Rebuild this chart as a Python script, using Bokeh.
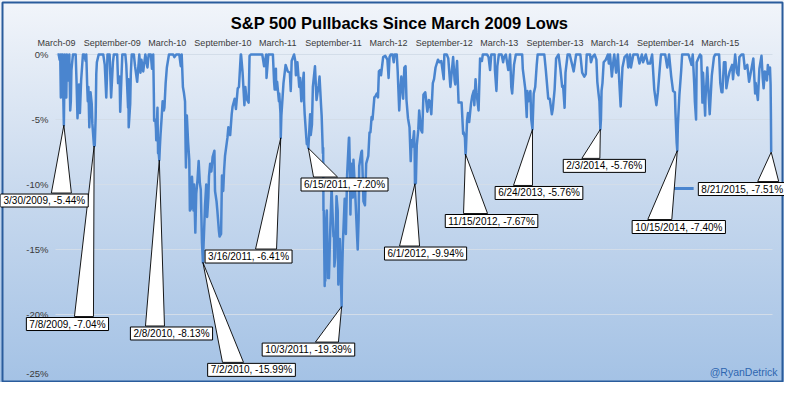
import pandas as pd
from bokeh.plotting import figure
from bokeh.models import Range1d, Label
from bokeh.core.properties import value
from bokeh.embed import file_html
from bokeh.resources import INLINE

# ---------------- data (drawdown from running high, %) ----------------
pb_2009 = [
    ("2009-03-09", 0), ("2009-03-13", 0), ("2009-03-16", -0.4), ("2009-03-18", 0), ("2009-03-20", -3.3),
    ("2009-03-23", 0), ("2009-03-26", 0), ("2009-03-27", -2.0), ("2009-03-30", -5.44), ("2009-04-02", 0),
    ("2009-04-06", -1.5), ("2009-04-07", -3.3), ("2009-04-09", 0), ("2009-04-14", -2.0), ("2009-04-17", 0),
    ("2009-04-20", -4.3), ("2009-04-22", -3.6), ("2009-04-24", -1.2), ("2009-04-29", 0), ("2009-05-04", 0),
    ("2009-05-08", 0), ("2009-05-11", -2.2), ("2009-05-14", -4.9), ("2009-05-19", -2.3), ("2009-05-22", -4.5),
    ("2009-05-26", -2.0), ("2009-06-01", 0), ("2009-06-05", 0), ("2009-06-10", -0.5), ("2009-06-12", 0),
    ("2009-06-15", -2.4), ("2009-06-17", -3.6), ("2009-06-19", -2.5), ("2009-06-22", -5.6), ("2009-06-26", -2.9),
    ("2009-06-30", -3.8), ("2009-07-02", -5.3), ("2009-07-07", -6.9), ("2009-07-08", -7.04), ("2009-07-10", -7.0),
    ("2009-07-13", -4.8), ("2009-07-15", -1.5), ("2009-07-17", -0.6), ("2009-07-23", 0), ("2009-07-31", 0),
    ("2009-08-07", 0), ("2009-08-12", -0.8), ("2009-08-17", -3.3), ("2009-08-19", -1.9), ("2009-08-21", 0),
    ("2009-08-28", 0), ("2009-09-02", -3.3), ("2009-09-08", -0.6), ("2009-09-11", 0), ("2009-09-16", 0),
    ("2009-09-22", 0), ("2009-09-25", -2.2), ("2009-09-30", -1.7), ("2009-10-02", -4.4), ("2009-10-06", -1.8),
    ("2009-10-09", 0), ("2009-10-14", 0), ("2009-10-19", 0), ("2009-10-22", -0.8), ("2009-10-26", -3.0),
    ("2009-10-28", -4.1), ("2009-10-29", -1.9), ("2009-10-30", -5.6), ("2009-11-04", -3.8), ("2009-11-06", -1.5),
    ("2009-11-09", 0), ("2009-11-16", 0), ("2009-11-20", -0.9), ("2009-11-27", -2.1), ("2009-12-04", 0),
    ("2009-12-08", -1.4), ("2009-12-11", -0.4), ("2009-12-17", -1.3), ("2009-12-24", 0), ("2009-12-31", -1.0),
]
pb_2010 = [
    ("2010-01-04", 0), ("2010-01-11", 0), ("2010-01-15", -1.1), ("2010-01-19", 0), ("2010-01-21", -3.0),
    ("2010-01-22", -5.1), ("2010-01-26", -5.0), ("2010-01-28", -5.7), ("2010-01-29", -6.6), ("2010-02-02", -4.1),
    ("2010-02-04", -7.6), ("2010-02-05", -7.3), ("2010-02-08", -8.13), ("2010-02-10", -7.1), ("2010-02-12", -6.2),
    ("2010-02-16", -4.8), ("2010-02-19", -3.6), ("2010-02-23", -4.3), ("2010-02-25", -4.1), ("2010-03-01", -2.2),
    ("2010-03-05", -1.0), ("2010-03-12", 0), ("2010-03-18", 0), ("2010-03-26", 0), ("2010-03-30", -0.2),
    ("2010-04-05", 0), ("2010-04-15", 0), ("2010-04-20", -0.9), ("2010-04-23", 0), ("2010-04-27", -2.5),
    ("2010-04-30", -2.9), ("2010-05-04", -3.6), ("2010-05-06", -7.3), ("2010-05-07", -8.7), ("2010-05-10", -4.7),
    ("2010-05-14", -6.7), ("2010-05-18", -8.1), ("2010-05-20", -12.0), ("2010-05-25", -11.8), ("2010-05-27", -9.4),
    ("2010-06-01", -12.0), ("2010-06-03", -10.0), ("2010-06-07", -13.7), ("2010-06-10", -10.7), ("2010-06-14", -9.7),
    ("2010-06-18", -8.2), ("2010-06-22", -9.9), ("2010-06-25", -10.4), ("2010-06-29", -14.5), ("2010-07-02", -15.99),
    ("2010-07-07", -12.9), ("2010-07-09", -11.6), ("2010-07-13", -10.0), ("2010-07-16", -12.5), ("2010-07-20", -11.0),
    ("2010-07-22", -9.4), ("2010-07-26", -8.4), ("2010-07-30", -9.0), ("2010-08-03", -7.9), ("2010-08-09", -7.4),
    ("2010-08-11", -10.5), ("2010-08-16", -11.3), ("2010-08-19", -12.1), ("2010-08-24", -13.6), ("2010-08-26", -14.0),
    ("2010-08-31", -13.8), ("2010-09-03", -9.3), ("2010-09-07", -10.5), ("2010-09-10", -8.9), ("2010-09-13", -7.8),
    ("2010-09-21", -6.4), ("2010-09-24", -5.6), ("2010-09-30", -6.2), ("2010-10-05", -4.6), ("2010-10-08", -4.0),
    ("2010-10-15", -3.4), ("2010-10-19", -4.2), ("2010-10-25", -2.6), ("2010-10-29", -2.5), ("2010-11-04", 0),
    ("2010-11-05", 0), ("2010-11-10", -1.4), ("2010-11-16", -3.9), ("2010-11-19", -2.5), ("2010-11-23", -3.4),
    ("2010-11-30", -3.7), ("2010-12-03", -0.1), ("2010-12-07", 0), ("2010-12-13", 0), ("2010-12-17", 0),
    ("2010-12-23", 0), ("2010-12-31", 0),
]
pb_2011 = [
    ("2011-01-05", 0), ("2011-01-12", 0), ("2011-01-14", 0), ("2011-01-20", -0.9), ("2011-01-27", 0),
    ("2011-01-28", -1.8), ("2011-02-03", 0), ("2011-02-10", 0), ("2011-02-18", 0), ("2011-02-22", -2.1),
    ("2011-02-24", -2.7), ("2011-02-28", -1.1), ("2011-03-01", -2.7), ("2011-03-04", -2.1), ("2011-03-10", -3.6),
    ("2011-03-11", -3.0), ("2011-03-15", -4.5), ("2011-03-16", -6.41), ("2011-03-18", -4.7), ("2011-03-22", -3.3),
    ("2011-03-25", -2.2), ("2011-04-01", -0.8), ("2011-04-08", -1.3), ("2011-04-15", -1.4), ("2011-04-18", -2.8),
    ("2011-04-21", -0.5), ("2011-04-29", 0), ("2011-05-03", -0.5), ("2011-05-05", -1.6), ("2011-05-10", -0.6),
    ("2011-05-16", -2.5), ("2011-05-19", -1.8), ("2011-05-23", -3.6), ("2011-05-26", -2.6), ("2011-05-31", -1.4),
    ("2011-06-01", -3.6), ("2011-06-03", -4.6), ("2011-06-08", -6.3), ("2011-06-10", -6.9), ("2011-06-13", -6.9),
    ("2011-06-15", -7.20), ("2011-06-17", -6.4), ("2011-06-21", -4.6), ("2011-06-23", -6.2), ("2011-06-27", -5.4),
    ("2011-06-30", -2.5), ("2011-07-07", -0.9), ("2011-07-12", -3.5), ("2011-07-15", -3.0), ("2011-07-19", -2.4),
    ("2011-07-22", -1.7), ("2011-07-27", -3.9), ("2011-07-29", -4.7), ("2011-08-02", -7.6), ("2011-08-03", -7.2),
    ("2011-08-04", -12.0), ("2011-08-05", -12.0), ("2011-08-08", -17.8), ("2011-08-09", -13.5), ("2011-08-10", -17.4),
    ("2011-08-11", -13.6), ("2011-08-15", -12.0), ("2011-08-18", -16.0), ("2011-08-19", -17.2), ("2011-08-22", -17.2),
    ("2011-08-26", -13.8), ("2011-08-31", -10.1), ("2011-09-01", -11.1), ("2011-09-06", -14.0), ("2011-09-08", -14.0),
    ("2011-09-09", -16.3), ("2011-09-12", -15.6), ("2011-09-16", -10.9), ("2011-09-20", -12.0), ("2011-09-22", -17.7),
    ("2011-09-23", -17.2), ("2011-09-27", -14.2), ("2011-09-30", -16.9), ("2011-10-03", -19.39), ("2011-10-04", -17.4),
    ("2011-10-07", -14.6), ("2011-10-13", -11.1), ("2011-10-17", -13.8), ("2011-10-21", -9.3), ("2011-10-27", -6.4),
    ("2011-10-28", -6.4), ("2011-10-31", -9.7), ("2011-11-01", -12.3), ("2011-11-04", -8.4), ("2011-11-09", -11.0),
    ("2011-11-11", -8.1), ("2011-11-17", -10.8), ("2011-11-23", -14.0), ("2011-11-25", -15.0), ("2011-11-28", -12.7),
    ("2011-11-30", -8.6), ("2011-12-07", -7.5), ("2011-12-09", -7.4), ("2011-12-14", -11.3), ("2011-12-19", -11.6),
    ("2011-12-23", -8.4), ("2011-12-30", -7.8),
]
pb_2012 = [
    ("2012-01-03", -6.0), ("2012-01-06", -6.0), ("2012-01-10", -4.8), ("2012-01-13", -5.0), ("2012-01-19", -3.3),
    ("2012-01-23", -3.2), ("2012-01-27", -3.0), ("2012-01-31", -3.3), ("2012-02-03", -1.3), ("2012-02-07", -1.2),
    ("2012-02-10", -1.6), ("2012-02-17", -0.2), ("2012-02-24", -0.1), ("2012-03-02", -0.4), ("2012-03-06", -1.8),
    ("2012-03-09", -0.2), ("2012-03-13", 0), ("2012-03-19", 0), ("2012-03-23", -0.6), ("2012-03-26", 0),
    ("2012-04-02", 0), ("2012-04-05", -1.3), ("2012-04-10", -4.3), ("2012-04-13", -3.0), ("2012-04-17", -1.7),
    ("2012-04-23", -3.4), ("2012-04-27", -1.0), ("2012-05-01", -0.9), ("2012-05-04", -3.5), ("2012-05-09", -4.9),
    ("2012-05-14", -5.6), ("2012-05-18", -8.2), ("2012-05-21", -6.6), ("2012-05-23", -7.1), ("2012-05-25", -6.8),
    ("2012-05-29", -5.9), ("2012-05-31", -7.4), ("2012-06-01", -9.94), ("2012-06-04", -9.9), ("2012-06-07", -7.0),
    ("2012-06-12", -5.8), ("2012-06-15", -4.3), ("2012-06-21", -5.8), ("2012-06-25", -6.0), ("2012-06-29", -3.1),
    ("2012-07-05", -2.9), ("2012-07-12", -4.4), ("2012-07-17", -3.5), ("2012-07-20", -3.6), ("2012-07-25", -4.6),
    ("2012-07-30", -2.2), ("2012-08-03", -1.9), ("2012-08-08", -1.0), ("2012-08-16", -0.4), ("2012-08-21", -0.6),
    ("2012-08-27", -0.5), ("2012-09-04", -1.9), ("2012-09-06", 0), ("2012-09-14", 0), ("2012-09-19", -0.3),
    ("2012-09-26", -2.5), ("2012-10-01", -1.2), ("2012-10-05", -0.2), ("2012-10-10", -2.0), ("2012-10-12", -2.3),
    ("2012-10-18", -0.5), ("2012-10-23", -3.7), ("2012-10-26", -3.7), ("2012-11-02", -3.7), ("2012-11-07", -6.1),
    ("2012-11-09", -6.0), ("2012-11-13", -6.4), ("2012-11-15", -7.67), ("2012-11-16", -7.5), ("2012-11-20", -5.1),
    ("2012-11-23", -4.5), ("2012-11-27", -5.2), ("2012-12-03", -3.8), ("2012-12-07", -3.2), ("2012-12-12", -2.8),
    ("2012-12-14", -3.9), ("2012-12-18", -1.9), ("2012-12-21", -2.9), ("2012-12-28", -4.3),
]
pb_2013 = [
    ("2013-01-02", -0.3), ("2013-01-08", -0.5), ("2013-01-11", 0), ("2013-01-18", 0), ("2013-01-25", 0),
    ("2013-01-30", -0.2), ("2013-02-04", -1.2), ("2013-02-08", 0), ("2013-02-19", 0), ("2013-02-20", -1.2),
    ("2013-02-25", -2.8), ("2013-02-28", -0.9), ("2013-03-05", 0), ("2013-03-14", 0), ("2013-03-19", -0.6),
    ("2013-03-22", -0.2), ("2013-03-28", 0), ("2013-04-05", -1.2), ("2013-04-11", 0), ("2013-04-15", -2.5),
    ("2013-04-18", -3.0), ("2013-04-24", -0.8), ("2013-04-30", 0), ("2013-05-08", 0), ("2013-05-21", 0),
    ("2013-05-23", -1.1), ("2013-05-24", -1.3), ("2013-05-31", -2.6), ("2013-06-05", -4.8), ("2013-06-07", -2.8),
    ("2013-06-11", -3.6), ("2013-06-17", -2.8), ("2013-06-20", -5.0), ("2013-06-24", -5.76), ("2013-06-28", -3.0),
    ("2013-07-03", -2.5), ("2013-07-08", -0.8), ("2013-07-11", 0), ("2013-07-22", 0), ("2013-08-02", 0),
    ("2013-08-07", -1.2), ("2013-08-15", -3.4), ("2013-08-20", -3.4), ("2013-08-27", -4.6), ("2013-08-30", -4.2),
    ("2013-09-05", -2.7), ("2013-09-10", -0.3), ("2013-09-18", 0), ("2013-09-24", -1.1), ("2013-09-30", -2.5),
    ("2013-10-03", -2.4), ("2013-10-08", -4.1), ("2013-10-11", -1.4), ("2013-10-18", 0), ("2013-10-25", 0),
    ("2013-11-07", -1.3), ("2013-11-15", 0), ("2013-11-22", 0), ("2013-11-29", 0), ("2013-12-05", -1.4),
    ("2013-12-12", -1.7), ("2013-12-17", -1.5), ("2013-12-20", 0), ("2013-12-31", 0),
]
pb_2014 = [
    ("2014-01-03", -0.6), ("2014-01-08", -0.2), ("2014-01-15", 0), ("2014-01-21", -0.4), ("2014-01-24", -2.1),
    ("2014-01-28", -3.0), ("2014-01-31", -3.6), ("2014-02-03", -5.76), ("2014-02-05", -5.0), ("2014-02-07", -2.8),
    ("2014-02-10", -2.2), ("2014-02-14", -0.6), ("2014-02-21", -0.4), ("2014-02-28", 0), ("2014-03-03", -0.7),
    ("2014-03-07", 0), ("2014-03-13", -1.7), ("2014-03-19", -0.3), ("2014-03-21", 0), ("2014-03-27", -1.4),
    ("2014-04-02", 0), ("2014-04-07", -2.3), ("2014-04-11", -4.0), ("2014-04-17", -1.0), ("2014-04-24", -0.2),
    ("2014-05-02", 0), ("2014-05-06", -1.0), ("2014-05-12", 0), ("2014-05-15", -1.0), ("2014-05-23", 0),
    ("2014-06-06", 0), ("2014-06-12", -0.7), ("2014-06-20", 0), ("2014-06-24", -0.6), ("2014-07-03", 0),
    ("2014-07-10", -0.7), ("2014-07-17", -0.7), ("2014-07-24", 0), ("2014-07-31", -2.7), ("2014-08-07", -3.9),
    ("2014-08-12", -2.9), ("2014-08-18", -1.1), ("2014-08-22", 0), ("2014-09-05", 0), ("2014-09-12", -1.0),
    ("2014-09-18", 0), ("2014-09-25", -1.7), ("2014-10-01", -2.8), ("2014-10-07", -2.9), ("2014-10-09", -4.5),
    ("2014-10-13", -6.8), ("2014-10-15", -7.40), ("2014-10-17", -5.4), ("2014-10-22", -3.1), ("2014-10-28", -1.2),
    ("2014-10-31", 0), ("2014-11-07", 0), ("2014-11-21", 0), ("2014-12-01", -0.8), ("2014-12-05", 0),
    ("2014-12-10", -2.3), ("2014-12-12", -3.6), ("2014-12-16", -5.0), ("2014-12-18", -0.6), ("2014-12-29", 0),
]
pb_2015 = [
    ("2015-01-02", -0.1), ("2015-01-06", -3.7), ("2015-01-08", -1.4), ("2015-01-15", -4.7), ("2015-01-16", -3.5),
    ("2015-01-22", -1.0), ("2015-01-27", -3.3), ("2015-01-30", -4.6), ("2015-02-02", -3.3), ("2015-02-06", -1.6),
    ("2015-02-13", -0.2), ("2015-02-17", 0), ("2015-02-25", 0), ("2015-03-02", 0), ("2015-03-06", -2.2),
    ("2015-03-10", -2.9), ("2015-03-13", -2.9), ("2015-03-18", -0.6), ("2015-03-23", -0.6), ("2015-03-26", -2.6),
    ("2015-03-31", -1.9), ("2015-04-06", -1.3), ("2015-04-14", -0.8), ("2015-04-17", -1.9), ("2015-04-24", 0),
    ("2015-04-30", -1.4), ("2015-05-05", -1.6), ("2015-05-08", -0.2), ("2015-05-15", 0), ("2015-05-21", 0),
    ("2015-05-26", -1.1), ("2015-06-03", -0.8), ("2015-06-09", -2.1), ("2015-06-16", -1.2), ("2015-06-23", -0.3),
    ("2015-06-29", -3.0), ("2015-07-01", -2.2), ("2015-07-08", -3.5), ("2015-07-13", -1.1), ("2015-07-20", -0.1),
    ("2015-07-24", -1.8), ("2015-07-27", -2.6), ("2015-07-31", -1.3), ("2015-08-04", -1.5), ("2015-08-07", -2.0),
    ("2015-08-10", -0.8), ("2015-08-12", -1.5), ("2015-08-17", -1.0), ("2015-08-19", -2.3), ("2015-08-20", -4.5),
    ("2015-08-21", -7.51),
]

# annotated pullback lows
ann_dates = ["2009-03-30", "2009-07-08", "2010-02-08", "2010-07-02", "2011-03-16", "2011-06-15", "2011-10-03",
             "2012-06-01", "2012-11-15", "2013-06-24", "2014-02-03", "2014-10-15", "2015-08-21"]
ann_values = [-5.44, -7.04, -8.13, -15.99, -6.41, -7.20, -19.39, -9.94, -7.67, -5.76, -5.76, -7.40, -7.51]

# short stray series segment visible in the original
stray_dates = ["2014-09-27", "2014-12-08"]
stray_values = [-10.3, -10.3]

x_tick_dates = ["2009-03-01", "2009-09-01", "2010-03-01", "2010-09-01", "2011-03-01", "2011-09-01", "2012-03-01",
                "2012-09-01", "2013-03-01", "2013-09-01", "2014-03-01", "2014-09-01", "2015-03-01"]
y_ticks = [0, -5, -10, -15, -20, -25]

# ---------------- layout constants (pixels) ----------------
# callout box centre offset (dx, dy) from the low, and wedge base (left, right) relative to the low
callout_layout = [(-19.5, 75.3, -12.5, 7.5), (-26.7, 178, -19.7, -0.7), (12.2, 173.3, -13.8, 5.2),
                  (48.6, 107.5, 19.6, 40.6), (-32.2, 118.7, -25.2, -4.2), (36.2, 36.4, 5.2, 29.2),
                  (-33.2, 43, -26.2, -3.2), (10.6, 69.8, -15.4, 4.6), (26, 66.8, -2, 22),
                  (6.5, 63.6, -19, 0), (4, 36.5, -18.5, -0.5), (1.5, 76.3, -29.5, -5.5),
                  (-29, 36.9, -13.5, 7.5)]
BOX_H = 15
W, H = 784, 382
PX_PER_DAY = 714 / 2357.0     # horizontal scale of the original
PX_PER_PCT = 13.0             # vertical scale of the original
ORIGIN_X, ORIGIN_Y = 57, 54   # pixel of 2009-03-09 and of 0 %
DAY_MS = 86400000.0


def ms(s):
    return pd.Timestamp(s).value / 1e6


X0 = ms("2009-03-09") - ORIGIN_X / PX_PER_DAY * DAY_MS
X1 = X0 + W / PX_PER_DAY * DAY_MS
Y1 = ORIGIN_Y / PX_PER_PCT
Y0 = Y1 - H / PX_PER_PCT
PX_X = W / (X1 - X0)   # pixels per ms


def px_x(px):            # pixel column -> data x
    return X0 + px / PX_X


def px_y(py):            # pixel row -> data y
    return Y1 - py / PX_PER_PCT


LINE_BLUE = "#4A85CF"
FONT = "Liberation Sans"

series = pb_2009 + pb_2010 + pb_2011 + pb_2012 + pb_2013 + pb_2014 + pb_2015
xs = [ms(d) for d, _ in series]
ys = [v for _, v in series]

p = figure(width=W, height=H, x_range=Range1d(X0, X1), y_range=Range1d(Y0, Y1),
           x_axis_location=None, y_axis_location=None,
           output_backend="svg", toolbar_location=None, min_border=0)
p.background_fill_color = None
p.border_fill_color = None
p.outline_line_color = None
p.grid.visible = False
p.styles = {"background": "linear-gradient(180deg, #F2F5FA 0%, #C8D9EE 50%, #A4C2E5 100%)"}

# chart border
p.quad(left=[px_x(2)], right=[px_x(782)], top=[px_y(2)], bottom=[px_y(381)],
       fill_color=None, line_color="#2A5C9C", line_width=2)

# gridlines and tick labels
grid_ticks = [t for t in y_ticks if t > -25]
p.segment(x0=[px_x(55)] * len(grid_ticks), x1=[px_x(772)] * len(grid_ticks), y0=grid_ticks, y1=grid_ticks,
          line_color="#D3DDE9", line_width=1)
y_lab_pos = [t if t > -25 else t + 6 / PX_PER_PCT for t in y_ticks]
p.text(x=[px_x(48)] * len(y_ticks), y=y_lab_pos, text=[f"{t}%" for t in y_ticks],
       text_font=value(FONT), text_font_size="9.5px", text_color="#3A3A3A",
       text_align="right", text_baseline="middle")
x_lab = [pd.Timestamp(d).strftime("%B-%y") for d in x_tick_dates]
p.text(x=[ms(d) + 1.5 / PX_X for d in x_tick_dates], y=[px_y(42)] * len(x_tick_dates), text=x_lab,
       text_font=value(FONT), text_font_size="9px", text_color="#3A3A3A",
       text_align="center", text_baseline="middle")

# series
p.line(xs, ys, line_color=LINE_BLUE, line_width=2.5, line_join="round")
p.line([ms(d) for d in stray_dates], stray_values, line_color=LINE_BLUE, line_width=3)

# callouts
wx, wy = [], []
for d, v, (dx, dy, bl, br) in zip(ann_dates, ann_values, callout_layout):
    tx = ms(d)
    top = v - (dy - BOX_H / 2) / PX_PER_PCT
    wx.append([tx, tx + bl / PX_X, tx + br / PX_X])
    wy.append([v, top, top])
p.patches(wx, wy, fill_color="white", line_color="black", line_width=0.9)

for d, v, (dx, dy, bl, br) in zip(ann_dates, ann_values, callout_layout):
    t = pd.Timestamp(d)
    txt = f"{t.month}/{t.day}/{t.year}, {v:.2f}%"
    p.add_layout(Label(x=ms(d) + dx / PX_X, y=v - dy / PX_PER_PCT, text=txt, text_font=FONT,
                       text_font_size="10px", text_color="black", text_align="center",
                       text_baseline="middle", background_fill_color="white",
                       border_line_color="black", border_line_width=1,
                       padding=dict(left=3, right=3, top=1, bottom=1)))

# title and signature
p.add_layout(Label(x=px_x(399), y=px_y(22.5), text="S&P 500 Pullbacks Since March 2009 Lows",
                   text_font=FONT, text_font_size="16.5px", text_font_style="bold", text_color="black",
                   text_align="center", text_baseline="middle"))
p.add_layout(Label(x=px_x(777), y=px_y(371), text="@RyanDetrick", text_font=FONT,
                   text_font_size="10.5px", text_color="#2E66B0",
                   text_align="right", text_baseline="middle"))

open("out.html", "w").write(file_html(p, INLINE))
